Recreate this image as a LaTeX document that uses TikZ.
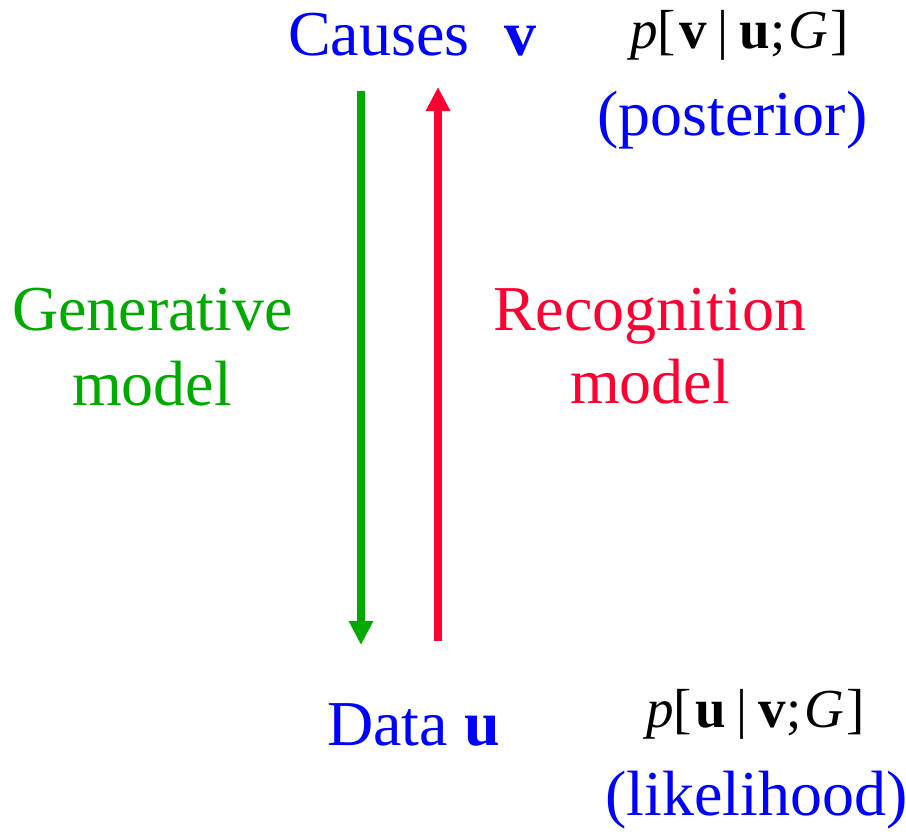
\documentclass[tikz,border=0pt]{standalone}
\usepackage{fontspec}
\setmainfont{Liberation Serif}
\usetikzlibrary{arrows.meta}
\definecolor{cblue}{RGB}{0,0,255}
\definecolor{cgreen}{RGB}{0,170,0}
\definecolor{cred}{RGB}{255,0,51}
\tikzset{
  lbl/.style={inner sep=0pt, anchor=base west, font=\fontsize{64}{72}\selectfont},
  frm/.style={inner sep=0pt, anchor=base west, font=\fontsize{55}{64}\selectfont, text=black},
  arr/.style={line width=8pt, -{Triangle[width=23pt,length=24pt]}}
}
\newcommand{\vb}{\hspace{0.2em}|\hspace{0.2em}}
\newcommand{\formula}[2]{\textit{p}[\hspace{0.06em}\textbf{#1}\vb\textbf{#2};\hspace{0.06em}\textit{G}\hspace{0.04em}]}
\begin{document}
\begin{tikzpicture}[x=1pt,y=-1pt]
\useasboundingbox (0,0) rectangle (906,835);
\node[lbl, text=cblue] (causes) at (288,55) {Causes\hspace{0.55em}\textbf{v}};
\node[frm] (post) at (630,48) {\formula{v}{u}};
\node[lbl, text=cblue] (postl) at (597,135) {(posterior)};
\node[lbl, text=cgreen] (gen) at (12,330) {Generative};
\node[lbl, text=cgreen] (genm) at (72,405) {model};
\node[lbl, text=cred] (rec) at (493,330) {Recognition};
\node[lbl, text=cred] (recm) at (570,403) {model};
\node[lbl, text=cblue] (data) at (327,745) {Data \textbf{u}};
\node[frm] (lik) at (646,727) {\formula{u}{v}};
\node[lbl, text=cblue] (likl) at (605,815) {(likelihood)};
\coordinate (g1) at (361,91);
\coordinate (g2) at (361,645);
\coordinate (r1) at (438,641);
\coordinate (r2) at (438,87);
\draw[arr, cgreen] (g1) -- (g2);
\draw[arr, cred] (r1) -- (r2);
\end{tikzpicture}
\end{document}
